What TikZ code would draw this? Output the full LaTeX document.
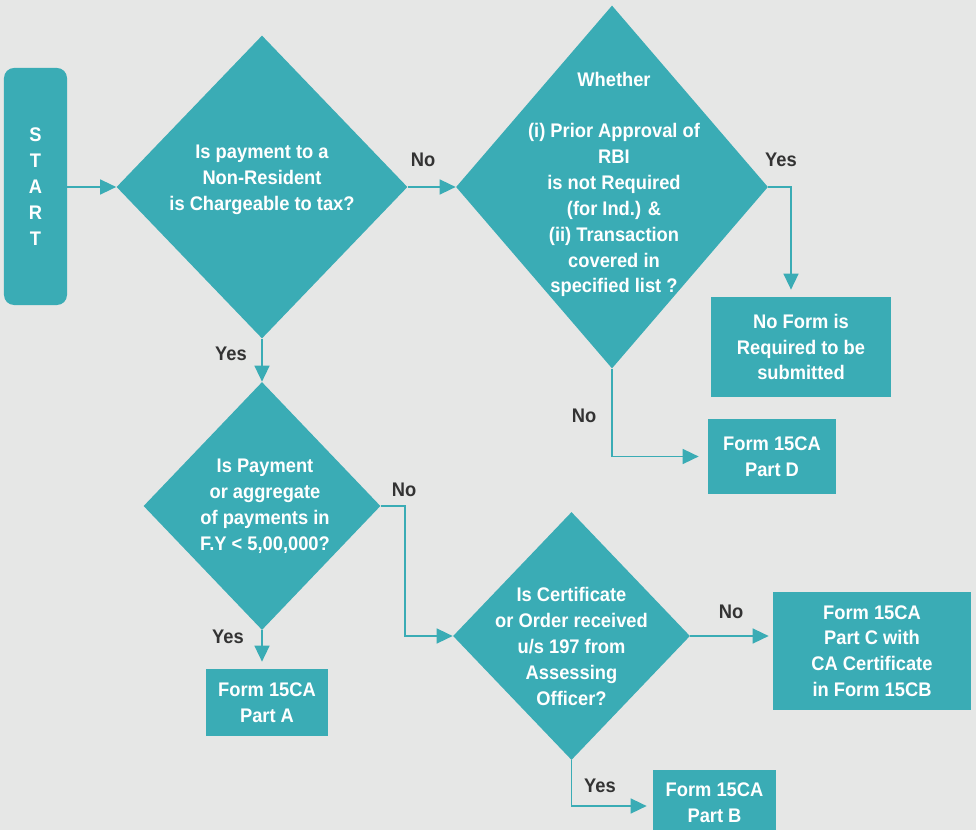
\documentclass[tikz,border=0pt]{standalone}
\usepackage{fontspec}
\setmainfont{Liberation Sans}[FakeStretch=0.93]
\usetikzlibrary{arrows.meta, positioning, shapes.geometric}

\definecolor{teal1}{HTML}{3AACB5}
\definecolor{bggray}{HTML}{E6E7E6}
\definecolor{lblgray}{HTML}{333333}

\begin{document}
\begin{tikzpicture}[
x=0.2mm, y=-0.2mm,
every node/.style={font=\fontsize{11.2}{14.7}\selectfont\bfseries, align=center},
startbox/.style={rectangle, rounded corners=2mm, fill=teal1, text=white, minimum width=12.6mm, minimum height=47.4mm},
decision/.style={diamond, fill=teal1, inner sep=0pt},
qtext/.style={text=white},
formbox/.style={rectangle, fill=teal1, text=white},
lbl/.style={text=lblgray},
arrow/.style={-{Triangle[length=3.2mm, width=3mm]}, line width=0.3mm, draw=teal1}
]

\fill[bggray] (0,0) rectangle (976,830);
\useasboundingbox (0,0) rectangle (976,830);

% shapes
\node[startbox] (start) at (35.5,186.5) {S\\T\\A\\R\\T};
\node[decision, minimum width=58.2mm, minimum height=60.6mm,
  label={[qtext, yshift=1.4mm]center:Is payment to a\\Non-Resident\\is Chargeable to tax?}] (q1) at (262,187) {};
\node[decision, minimum width=62.4mm, minimum height=72.6mm,
  label={[qtext, xshift=0.4mm, yshift=0.5mm]center:Whether\\ \\(i) Prior Approval of\\RBI\\is not Required\\(for Ind.) \&\\(ii) Transaction\\covered in\\specified list ?}] (q2) at (612,187) {};
\node[formbox, minimum width=36mm, minimum height=20mm] (noform) at (801,347) {No Form is\\Required to be\\submitted};
\node[formbox, minimum width=25.6mm, minimum height=15mm] (partD) at (772,456.5) {Form 15CA\\Part D};
\node[decision, minimum width=47.4mm, minimum height=49.6mm,
  label={[qtext, xshift=0.6mm]center:Is Payment\\or aggregate\\of payments in\\F.Y < 5,00,000?}] (q3) at (262,506) {};
\node[formbox, minimum width=24.4mm, minimum height=13.4mm] (partA) at (267,702.5) {Form 15CA\\Part A};
\node[decision, minimum width=47.4mm, minimum height=49.6mm,
  label={[qtext, yshift=-2.1mm]center:Is Certificate\\or Order received\\u/s 197 from\\Assessing\\Officer?}] (q4) at (571.5,636) {};
\node[formbox, minimum width=39.6mm, minimum height=23.6mm] (partC) at (872,651) {Form 15CA\\Part C with\\CA Certificate\\in Form 15CB};
\node[formbox, minimum width=24.6mm, minimum height=13.2mm] (partB) at (714.5,803) {Form 15CA\\Part B};

% labels
\node[lbl] (no1) at (423,160) {No};
\node[lbl] (yes1) at (781,160) {Yes};
\node[lbl] (no2) at (584,416) {No};
\node[lbl] (yes2) at (231,354) {Yes};
\node[lbl] (no3) at (404,490) {No};
\node[lbl] (yes3) at (228,637) {Yes};
\node[lbl] (no4) at (731,612) {No};
\node[lbl] (yes4) at (600,786) {Yes};

% connectors
\draw[arrow] (start.east |- q1.west) -- (q1.west);
\draw[arrow] (q1.east) -- (q2.west);
\draw[arrow, shorten >=1.4mm] (q2.east) -| ([xshift=-2mm]noform.north);
\draw[arrow, shorten >=1.8mm] (q2.south) |- (partD.west);
\draw[arrow] (q1.south) -- (q3.north);
\draw[arrow] (q3.east) -- ++(24,0) |- (q4.west);
\draw[arrow, shorten >=1.4mm] (q3.south) -- (q3.south |- partA.north);
\draw[arrow, shorten >=0.8mm] (q4.east) -- (q4.east -| partC.west);
\draw[arrow, shorten >=1.2mm] (q4.south) |- ([yshift=-0.6mm]partB.west);

\end{tikzpicture}
\end{document}
